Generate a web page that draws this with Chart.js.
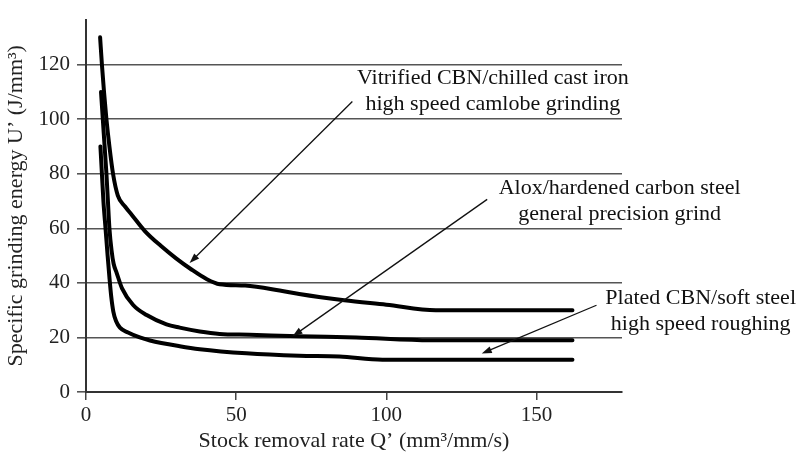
<!DOCTYPE html>
<html>
<head>
<meta charset="utf-8">
<script src="https://cdn.jsdelivr.net/npm/chart.js@4.4.1/dist/chart.umd.min.js"></script>
<style>
html, body { margin: 0; padding: 0; background: #fff; }
canvas { display: block; }
</style>
</head>
<body>
<canvas id="graf" width="799" height="458"></canvas>
<script>
// Vitrified CBN / chilled cast iron
var vitrifiedQ = [4.7, 5.3, 6, 6.8, 7.8, 9, 10.6, 13, 15.2, 19.6, 25, 30, 35, 40, 44.5, 53, 64.5, 71, 86, 100, 116.5, 130, 162];
var vitrifiedU = [130, 120, 110, 100, 90, 80, 72, 68, 65, 59, 53.5, 49, 45, 41.5, 39.5, 39, 37.2, 35.9, 33.6, 32, 30, 30, 30];

// Alox / hardened carbon steel
var aloxQ = [5, 5.6, 6.2, 6.8, 7.3, 7.8, 8.5, 9.2, 10.2, 12, 15.7, 20.2, 26.8, 31.2, 37.9, 44.5, 54.5, 71, 90, 114.7, 162];
var aloxU = [110, 100, 90, 80, 70, 60, 52, 47, 43.7, 38, 31.9, 28.2, 24.8, 23.6, 22.2, 21.3, 21, 20.4, 20, 19, 19];

// Plated CBN / soft steel
var platedQ = [4.8, 5.3, 5.8, 6.5, 7.2, 7.8, 8.4, 9.1, 10, 11.3, 14, 17.9, 21.3, 31.2, 37.9, 53.4, 71, 84.4, 98.7, 120, 162];
var platedU = [90, 80, 70, 60, 50, 42, 35, 29.5, 26, 23.6, 21.8, 20, 18.9, 16.8, 15.7, 14.2, 13.3, 13, 11.8, 11.8, 11.8];

var xTicks = [0, 50, 100, 150];
var yTicks = [0, 20, 40, 60, 80, 100, 120];

// napomene: tekst, sredina teksta i strelica (rep -> vrh), sve u jedinicama podataka
var napomeneTekst = [
    ['Vitrified CBN/chilled cast iron', 'high speed camlobe grinding'],
    ['Alox/hardened carbon steel', 'general precision grind'],
    ['Plated CBN/soft steel', 'high speed roughing']
];
var napomeneSidro = [[135.5, 110.2], [177.7, 70.1], [204.7, 29.7]];
var napomeneStrelica = [
    [88.7, 106.5, 34.5, 47.3],
    [133.6, 70.6, 68.8, 20.4],
    [170, 31.8, 131.8, 14.1]
];

var serif = "'Liberation Serif', 'Times New Roman', serif";

function tocke(q, u) {
    return q.map(function (x, i) { return { x: x, y: u[i] }; });
}

var biljeske = {
    id: 'biljeske',
    afterDatasetsDraw: function (chart) {
        var c = chart.ctx, sx = chart.scales.x, sy = chart.scales.y;
        c.save();
        c.strokeStyle = '#111';
        c.fillStyle = '#111';
        c.lineWidth = 1.3;
        napomeneStrelica.forEach(function (s) {
            var x1 = sx.getPixelForValue(s[0]), y1 = sy.getPixelForValue(s[1]);
            var x2 = sx.getPixelForValue(s[2]), y2 = sy.getPixelForValue(s[3]);
            var kut = Math.atan2(y2 - y1, x2 - x1);
            c.beginPath();
            c.moveTo(x1, y1);
            c.lineTo(x2 - 6 * Math.cos(kut), y2 - 6 * Math.sin(kut));
            c.stroke();
            c.beginPath();
            c.moveTo(x2, y2);
            c.lineTo(x2 - 10 * Math.cos(kut) + 3.5 * Math.sin(kut), y2 - 10 * Math.sin(kut) - 3.5 * Math.cos(kut));
            c.lineTo(x2 - 10 * Math.cos(kut) - 3.5 * Math.sin(kut), y2 - 10 * Math.sin(kut) + 3.5 * Math.cos(kut));
            c.closePath();
            c.fill();
        });
        c.font = '22px ' + serif;
        c.textAlign = 'center';
        c.textBaseline = 'middle';
        napomeneTekst.forEach(function (linije, i) {
            var cx = sx.getPixelForValue(napomeneSidro[i][0]);
            var cy = sy.getPixelForValue(napomeneSidro[i][1]);
            c.fillText(linije[0], cx, cy - 13);
            c.fillText(linije[1], cx, cy + 13);
        });
        c.restore();
    }
};

var ctx = document.getElementById('graf').getContext('2d');

new Chart(ctx, {
    type: 'line',
    data: {
        datasets: [
            { data: tocke(vitrifiedQ, vitrifiedU) },
            { data: tocke(aloxQ, aloxU) },
            { data: tocke(platedQ, platedU) }
        ]
    },
    options: {
        responsive: false,
        animation: false,
        devicePixelRatio: 1,
        layout: { padding: { left: 0, right: 177, top: 11, bottom: 0 } },
        plugins: { legend: { display: false }, tooltip: { enabled: false } },
        elements: {
            point: { radius: 0 },
            line: { borderColor: '#000', borderWidth: 4, cubicInterpolationMode: 'monotone', borderCapStyle: 'round', borderJoinStyle: 'round', fill: false }
        },
        scales: {
            x: {
                type: 'linear',
                min: 0,
                max: 178.5,
                afterFit: function (s) { s.height = 66; },
                afterBuildTicks: function (s) { s.ticks = xTicks.map(function (v) { return { value: v }; }); },
                ticks: { color: '#222', font: { family: serif, size: 21 }, padding: 3, maxRotation: 0 },
                grid: { drawOnChartArea: false, drawTicks: true, tickLength: 8, color: '#444', lineWidth: 1.5 },
                border: { color: '#333', width: 2 },
                title: {
                    display: true,
                    text: 'Stock removal rate Q’ (mm³/mm/s)',
                    color: '#222',
                    font: { family: serif, size: 22 },
                    padding: { top: 0, bottom: 4 }
                }
            },
            y: {
                min: 0,
                max: 136.5,
                afterFit: function (s) { s.width = 86; },
                afterBuildTicks: function (s) { s.ticks = yTicks.map(function (v) { return { value: v }; }); },
                ticks: { color: '#222', font: { family: serif, size: 21 }, padding: 7 },
                grid: { color: '#555', lineWidth: 1.6, tickLength: 9 },
                border: { color: '#333', width: 2 },
                title: {
                    display: true,
                    text: 'Specific grinding energy U’ (J/mm³)',
                    color: '#222',
                    font: { family: serif, size: 22 },
                    padding: { top: 3, bottom: 0 }
                }
            }
        }
    },
    plugins: [biljeske]
});
</script>
</body>
</html>
